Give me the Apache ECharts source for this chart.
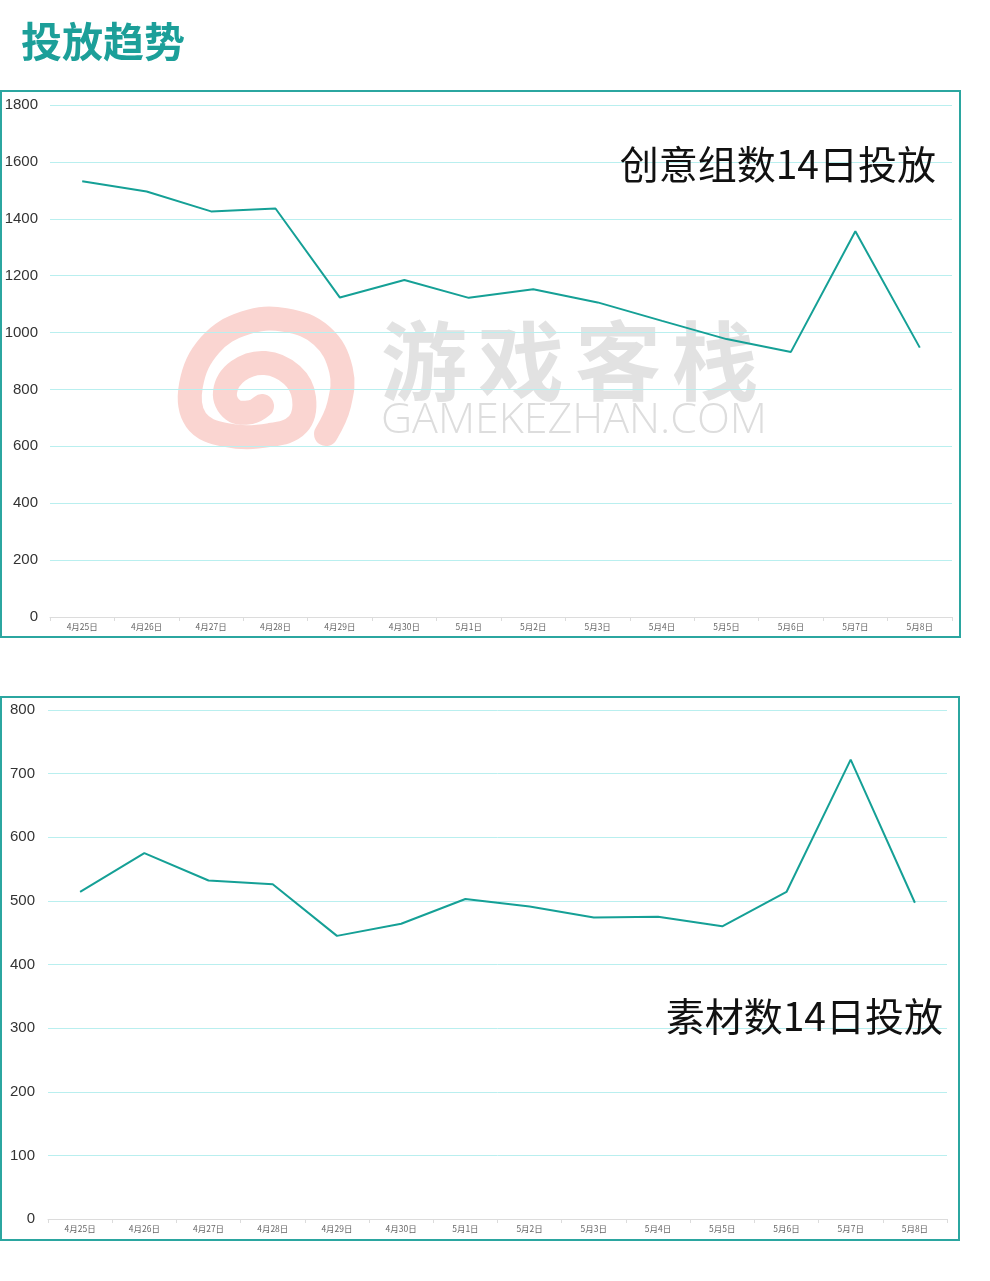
<!DOCTYPE html>
<html>
<head>
<meta charset="utf-8">
<script src="https://cdn.jsdelivr.net/npm/echarts@6/dist/echarts.min.js"></script>
<style>
html,body{margin:0;padding:0;background:#fff;}
#chart{width:990px;height:1281px;}
</style>
</head>
<body>
<div id="chart"></div>
<script>
var dates = ['4月25日','4月26日','4月27日','4月28日','4月29日','4月30日','5月1日','5月2日','5月3日','5月4日','5月5日','5月6日','5月7日','5月8日'];
var creativeGroups = [1532,1496,1426,1436,1123,1185,1122,1152,1106,1041,977,932,1356,947];
var materials = [514,575,532,526,445,464,503,491,474,475,460,514,722,497];
var topTicks = {min:0, max:1800, interval:200};
var bottomTicks = {min:0, max:800, interval:100};

var LINE = '#15a096';
var BORDER = '#2ba6a0';
var SPLIT = '#b9efef';
var LABEL_FONT = '"Liberation Sans", Arial, sans-serif';
var CJK_FONT = '"Noto Sans CJK SC", sans-serif';

function xAxis(gi){
  return {
    type:'category', gridIndex:gi, data:dates, boundaryGap:true,
    axisLine:{show:true, lineStyle:{color:'#dcdcdc', width:1}},
    axisTick:{show:true, length:4, lineStyle:{color:'#dcdcdc'}},
    axisLabel:{fontSize:8.5, color:'#666', margin:6, fontFamily:CJK_FONT, interval:0},
    splitLine:{show:false}
  };
}
function yAxis(gi, t, margin){
  return {
    type:'value', gridIndex:gi, min:t.min, max:t.max, interval:t.interval,
    axisLine:{show:false}, axisTick:{show:false},
    axisLabel:{fontSize:15, color:'#333', margin:margin, fontFamily:LABEL_FONT,
               formatter:function(v){return String(v);}},
    splitLine:{show:true, lineStyle:{color:SPLIT, width:1}}
  };
}

var wmChars = ['游','戏','客','栈'];
var wm = wmChars.map(function(c, i){
  return {type:'text', z:-1, silent:true, left:381 + i*97, top:318,
          style:{text:c, fill:'#e2e2e2', font:'bold 86px "Noto Sans CJK SC", sans-serif'}};
});

var chart = echarts.init(document.getElementById('chart'), null, {renderer:'canvas'});
chart.setOption({
  animation:false,
  backgroundColor:'#ffffff',
  grid:[
    {left:50, right:38, top:105, height:512},
    {left:48, right:43, top:710, height:509}
  ],
  xAxis:[xAxis(0), xAxis(1)],
  yAxis:[yAxis(0, topTicks, 12), yAxis(1, bottomTicks, 13)],
  series:[
    {type:'line', xAxisIndex:0, yAxisIndex:0, data:creativeGroups, showSymbol:false, symbol:'none',
     lineStyle:{color:LINE, width:2}, z:5},
    {type:'line', xAxisIndex:1, yAxisIndex:1, data:materials, showSymbol:false, symbol:'none',
     lineStyle:{color:LINE, width:2}, z:5}
  ],
  graphic:[
    {type:'text', left:21, top:21, z:10, style:{text:'投放趋势', fill:'#1c9f99', font:'bold 41px "Noto Sans CJK SC", sans-serif'}},
    {type:'rect', z:10, shape:{x:1, y:91, width:959, height:546}, style:{fill:'none', stroke:BORDER, lineWidth:2}},
    {type:'rect', z:10, shape:{x:1, y:697, width:958, height:543}, style:{fill:'none', stroke:BORDER, lineWidth:2}},
    {type:'polyline', z:-1, silent:true,
     shape:{smooth:0.4, points:[[326,434],[339,405],[341,370],[322,336],[285,320],[245,323],[210,345],[191,385],[196,420],[226,435],[270,435],[298,424],[304,398],[292,375],[265,363],[238,371],[225,392],[233,410],[251,412],[262,406]]},
     style:{stroke:'#fad5d1', lineWidth:24, fill:'none', lineCap:'round', lineJoin:'round'}}
  ].concat(wm).concat([
    {type:'text', z:-1, silent:true, left:381, top:399, style:{text:'GAMEKEZHAN.COM', fill:'#dddddd', font:'300 43px "Open Sans", "DejaVu Sans", sans-serif'}},
    {type:'text', right:54, top:145, z:10, style:{text:'创意组数14日投放', fill:'#111', font:'39px "Noto Sans CJK SC", sans-serif', textAlign:'right'}},
    {type:'text', right:47, top:997, z:10, style:{text:'素材数14日投放', fill:'#111', font:'39px "Noto Sans CJK SC", sans-serif', textAlign:'right'}}
  ])
});
</script>
</body>
</html>
